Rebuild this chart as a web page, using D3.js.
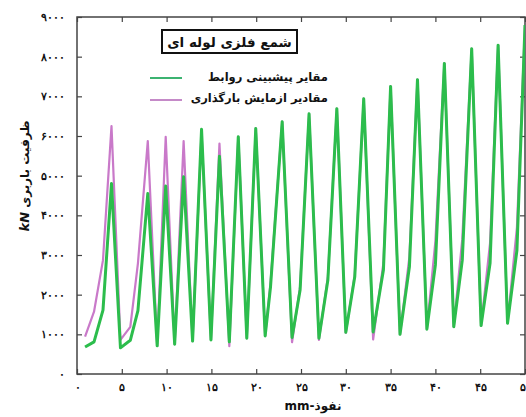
<!DOCTYPE html>
<html>
<head>
<meta charset="utf-8">
<script src="https://cdn.jsdelivr.net/npm/d3@7"></script>
<style>
  body { margin: 0; background: #fff; }
  svg { display: block; font-family: "DejaVu Sans", sans-serif; }
</style>
</head>
<body>
<svg width="526" height="417"></svg>
<script>
const width = 526;
const height = 417;

// green: predicted values (مقایر پیشبینی روابط)
const predX = [0.9, 1.9, 2.9, 3.85, 4.85, 5.95, 6.8, 7.9, 8.95, 9.9, 10.9, 11.9, 12.9, 13.9, 14.95, 15.9,
  17.0, 18.0, 18.95, 19.95, 21.0, 21.6, 22.9, 24.0, 24.9, 25.9, 27.0, 28.0, 29.0, 30.0, 31.0, 32.0,
  33.05, 34.2, 35.0, 36.05, 37.1, 38.0, 39.05, 40.0, 41.0, 42.05, 43.0, 44.05, 45.1, 46.1, 47.0,
  48.05, 49.1, 50.0];
const predY = [680, 810, 1610, 4800, 660, 850, 1600, 4550, 710, 4740, 750, 4970, 830, 6170, 860, 5490,
  810, 5980, 900, 6190, 960, 2200, 6360, 920, 2120, 6560, 900, 2370, 6690, 1050, 2450, 6940,
  1060, 2620, 7250, 1000, 2700, 7420, 1130, 2750, 7830, 1190, 2870, 8200, 1220, 2790, 8290,
  1280, 3120, 8800];

// pink: load test values (مقادیر ازمایش بارگذاری)
const testX = predX;
const testY = [940, 1570, 2870, 6250, 860, 1190, 2790, 5870, 710, 5980, 750, 5870, 830, 6100, 860, 5810,
  700, 5980, 900, 6190, 960, 2300, 6360, 800, 2200, 6560, 860, 2450, 6690, 1040, 2500, 6940,
  870, 2800, 7250, 1000, 2950, 7420, 1130, 3350, 7830, 1190, 3400, 8200, 1220, 3300, 8290,
  1280, 3700, 8800];

const xTicks = [0, 5, 10, 15, 20, 25, 30, 35, 40, 45, 50];
const yTicks = [0, 1000, 2000, 3000, 4000, 5000, 6000, 7000, 8000, 9000];

const title = "شمع فلزی لوله ای";
const seriesNames = ["مقایر پیشبینی روابط", "مقادیر ازمایش بارگذاری"];
const xLabel = "mm-نفوذ";
const yLabel = "ظرفیت باربری";

const fa = d => String(d).replace(/\d/g, c => "۰۱۲۳۴۵۶۷۸۹"[c]);

const svg = d3.select("svg");

const x = d3.scaleLinear().domain([0, 50]).range([77, 525]);
const y = d3.scaleLinear().domain([0, 9000]).range([374, 17]);

// frame
svg.append("rect")
  .attr("x", x(0)).attr("y", y(9000))
  .attr("width", x(50) - x(0)).attr("height", y(0) - y(9000))
  .attr("fill", "none").attr("stroke", "#444").attr("stroke-width", 1.5);

// axes, ticks inward
const styleAxis = g => {
  g.select(".domain").remove();
  g.selectAll(".tick line").attr("stroke", "#444").attr("stroke-width", 1.2);
  g.selectAll("text").attr("font-weight", "bold").attr("font-size", 11).attr("fill", "#111");
};

svg.append("g")
  .attr("transform", "translate(0," + y(0) + ")")
  .call(d3.axisBottom(x).tickValues(xTicks).tickFormat(fa).tickSizeInner(-5).tickPadding(9))
  .call(styleAxis);

svg.append("g")
  .attr("transform", "translate(0," + y(9000) + ")")
  .call(d3.axisTop(x).tickValues(xTicks).tickFormat("").tickSizeInner(-5))
  .call(styleAxis);

svg.append("g")
  .attr("transform", "translate(" + x(0) + ",0)")
  .call(d3.axisLeft(y).tickValues(yTicks).tickFormat(fa).tickSizeInner(-5).tickPadding(12))
  .call(styleAxis);

svg.append("g")
  .attr("transform", "translate(" + x(50) + ",0)")
  .call(d3.axisRight(y).tickValues(yTicks).tickFormat("").tickSizeInner(-5))
  .call(styleAxis);

// lines
const line = d3.line().x(d => x(d[0])).y(d => y(d[1]));

svg.append("clipPath").attr("id", "plot")
  .append("rect").attr("x", x(0)).attr("y", y(9000))
  .attr("width", x(50) - x(0)).attr("height", y(0) - y(9000));

svg.append("path")
  .datum(d3.zip(testX, testY))
  .attr("d", line)
  .attr("fill", "none")
  .attr("stroke", "#c979c9")
  .attr("stroke-width", 2.2)
  .attr("stroke-linejoin", "round")
  .attr("clip-path", "url(#plot)");

svg.append("path")
  .datum(d3.zip(predX, predY))
  .attr("d", line)
  .attr("fill", "none")
  .attr("stroke", "#2cbd4c")
  .attr("stroke-width", 3)
  .attr("stroke-linejoin", "round")
  .attr("clip-path", "url(#plot)");

// title box
svg.append("rect")
  .attr("x", 162).attr("y", 30).attr("width", 135).attr("height", 23)
  .attr("fill", "#fff").attr("stroke", "#111").attr("stroke-width", 2);

svg.append("text")
  .attr("x", 229.5).attr("y", 47)
  .attr("text-anchor", "middle")
  .attr("font-size", 13.5).attr("font-weight", "bold")
  .attr("fill", "#111")
  .text(title);

// legend
const legendColors = ["#3cb371", "#c58ac8"];
const legend = svg.append("g");
legend.selectAll("line")
  .data(legendColors)
  .join("line")
  .attr("x1", 150).attr("x2", 182)
  .attr("y1", (d, i) => 78 + i * 22).attr("y2", (d, i) => 78 + i * 22)
  .attr("stroke", d => d).attr("stroke-width", 2);

legend.selectAll("text")
  .data(seriesNames)
  .join("text")
  .attr("x", 328).attr("y", (d, i) => 81 + i * 21)
  .attr("text-anchor", "end")
  .attr("font-size", 11.5).attr("font-weight", "bold")
  .attr("fill", "#111")
  .text(d => d);

// axis titles
svg.append("text")
  .attr("x", 313).attr("y", 410)
  .attr("text-anchor", "middle")
  .attr("font-size", 12).attr("font-weight", "bold")
  .attr("fill", "#111")
  .text(xLabel);

const yl = svg.append("text")
  .attr("transform", "translate(29,176) rotate(-90)")
  .attr("text-anchor", "middle")
  .attr("font-size", 12).attr("font-weight", "bold")
  .attr("fill", "#111");
yl.append("tspan").attr("font-style", "italic").attr("font-size", 13).text("kN");
yl.append("tspan").text(" " + yLabel);
</script>
</body>
</html>
